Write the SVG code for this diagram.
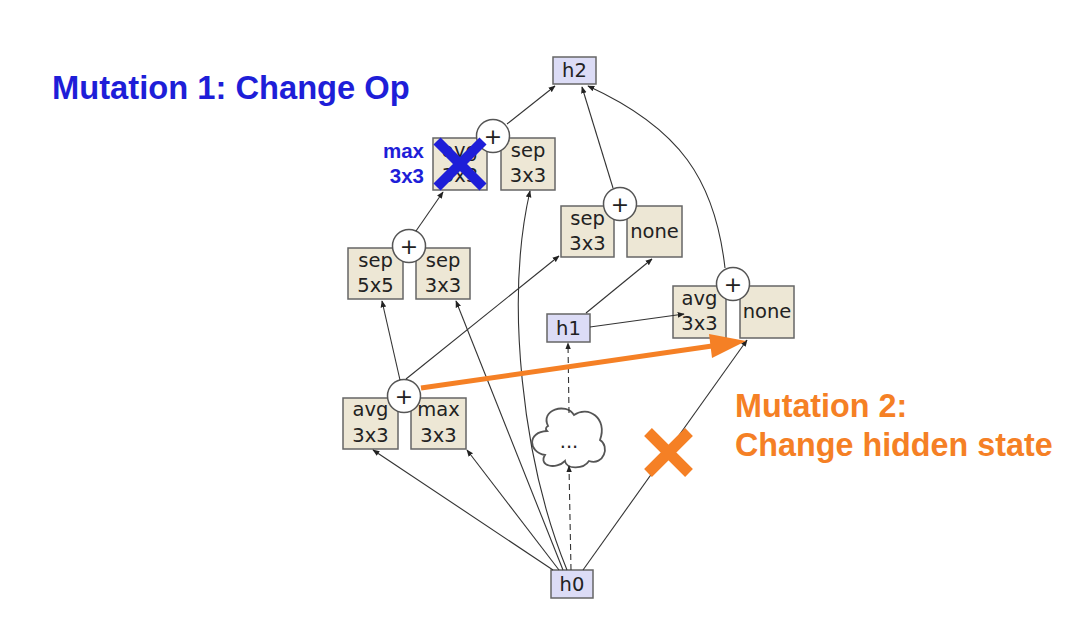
<svg xmlns="http://www.w3.org/2000/svg" width="1076" height="642" viewBox="0 0 1076 642">
<style>
.op{fill:#ede7d5;stroke:#666;stroke-width:1.5}
.hs{fill:#dcdcf6;stroke:#666;stroke-width:1.5}
.pl{fill:#fff;stroke:#555;stroke-width:1.5}
.t{font-family:"DejaVu Sans",sans-serif;font-size:19.5px;fill:#222;text-anchor:middle}
.pt{font-family:"DejaVu Sans",sans-serif;font-size:22px;fill:#222;text-anchor:middle}
.e{fill:none;stroke:#333;stroke-width:1.1;marker-end:url(#ah)}
.d{stroke-dasharray:6,4}
.blue{font-family:"Liberation Sans",Arial,sans-serif;font-weight:bold;fill:#1e1ed8}
.orange{font-family:"Liberation Sans",Arial,sans-serif;font-weight:bold;fill:#f58025}
</style>
<defs>
<marker id="ah" viewBox="0 0 10 10" refX="9" refY="5" markerWidth="7" markerHeight="7" markerUnits="userSpaceOnUse" orient="auto">
<path d="M0,1 L10,5 L0,9 Z" fill="#222"/>
</marker>
</defs>
<rect width="1076" height="642" fill="#fff"/>

<text class="blue" x="52" y="99" font-size="32.7">Mutation 1: Change Op</text>

<g id="h2"><rect class="hs" x="553" y="57" width="43" height="27"/><text class="t" x="574.5" y="77">h2</text></g>
<g id="h1"><rect class="hs" x="547" y="314" width="43" height="28"/><text class="t" x="568.5" y="335">h1</text></g>
<g id="h0"><rect class="hs" x="551" y="570" width="42" height="28"/><text class="t" x="572" y="591">h0</text></g>

<g id="cell5">
<rect class="op" x="433" y="138" width="54" height="52"/><text class="t" x="460" y="157">avg</text><text class="t" x="460" y="182">3x3</text>
<rect class="op" x="501" y="138" width="54" height="52"/><text class="t" x="528" y="157">sep</text><text class="t" x="528" y="182">3x3</text>
<circle class="pl" cx="493" cy="136" r="16.5"/><text class="pt" x="493" y="144">+</text>
</g>
<g id="cell4">
<rect class="op" x="348" y="248" width="55" height="51"/><text class="t" x="375.5" y="267">sep</text><text class="t" x="375.5" y="292">5x5</text>
<rect class="op" x="416" y="248" width="54" height="51"/><text class="t" x="443" y="267">sep</text><text class="t" x="443" y="292">3x3</text>
<circle class="pl" cx="409" cy="246" r="16.5"/><text class="pt" x="409" y="254">+</text>
</g>
<g id="cell3">
<rect class="op" x="561" y="206" width="53" height="51"/><text class="t" x="587.5" y="225">sep</text><text class="t" x="587.5" y="250">3x3</text>
<rect class="op" x="627" y="206" width="55" height="51"/><text class="t" x="654.5" y="238">none</text>
<circle class="pl" cx="620" cy="204" r="16.5"/><text class="pt" x="620" y="212">+</text>
</g>
<g id="cell2">
<rect class="op" x="673" y="286" width="53" height="52"/><text class="t" x="699.5" y="305">avg</text><text class="t" x="699.5" y="330">3x3</text>
<rect class="op" x="740" y="286" width="54" height="52"/><text class="t" x="767" y="318">none</text>
<circle class="pl" cx="733" cy="284" r="16.5"/><text class="pt" x="733" y="292">+</text>
</g>
<g id="cell1">
<rect class="op" x="343" y="398" width="55" height="51"/><text class="t" x="370.5" y="416">avg</text><text class="t" x="370.5" y="442">3x3</text>
<rect class="op" x="411" y="398" width="55" height="51"/><text class="t" x="438.5" y="416">max</text><text class="t" x="438.5" y="442">3x3</text>
<circle class="pl" cx="404" cy="396" r="16.5"/><text class="pt" x="404" y="404">+</text>
</g>
<g id="cloud">
<path d="M548,426 C540,410 566,402 574,415 C588,405 608,418 600,440 C610,446 604,466 589,461 C583,470 566,469 565,461 C556,470 538,466 545,455 C528,452 527,432 547,431 C545,429 546,427 548,426 Z" fill="#fff" stroke="#555" stroke-width="1.8"/>
<text class="t" x="569" y="448" font-size="16">...</text>
</g>

<g id="connectors">
<path class="e" d="M507,124 L555,86"/>
<path class="e" d="M416,231 L443,192"/>
<path class="e" d="M613,188 L582,87"/>
<path class="e" d="M725,268 C715,180 680,128 588,86"/>
<path class="e" d="M586,313 L652,259"/>
<path class="e" d="M590,327 L684,314"/>
<path class="e" d="M400,380 L382,301"/>
<path class="e" d="M406,379 L559,256"/>
<path class="e" d="M553,570 L373,450"/>
<path class="e" d="M559,570 L467,450"/>
<path class="e" d="M563,570 L456,301"/>
<path class="e" d="M567,570 C522,460 505,300 530,191"/>
<path class="e d" d="M571,570 L569,466"/>
<path class="e d" d="M569,413 L568,343"/>
<path class="e" d="M583,570 L747,340"/>
</g>

<g id="mutation1">
<text class="blue" x="424" y="158" font-size="20.5" text-anchor="end">max</text>
<text class="blue" x="424" y="183" font-size="20.5" text-anchor="end">3x3</text>
<path d="M437,141 L483,187 M483,141 L437,187" stroke="#1e1ed8" stroke-width="10" fill="none"/>
</g>
<g id="mutation2">
<path d="M421,388 L712,346" stroke="#f58025" stroke-width="5" fill="none"/>
<polygon points="746,341 712,358 709,334" fill="#f58025"/>
<path d="M648,432 L689,473 M689,432 L648,473" stroke="#f58025" stroke-width="11" fill="none"/>
<text class="orange" x="735" y="417" font-size="32.3">Mutation 2:</text>
<text class="orange" x="735" y="456" font-size="32.3">Change hidden state</text>
</g>
</svg>
